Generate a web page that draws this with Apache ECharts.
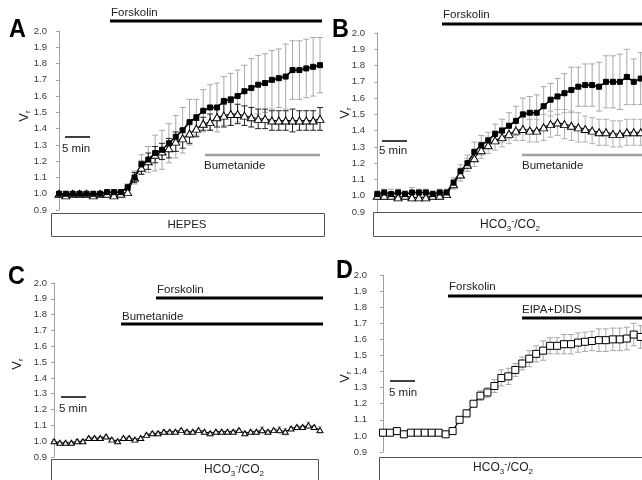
<!DOCTYPE html>
<html>
<head>
<meta charset="utf-8">
<script src="https://cdn.jsdelivr.net/npm/echarts@6/dist/echarts.min.js"></script>
<style>html,body{margin:0;padding:0;background:#fff}#c{width:642px;height:480px}</style>
</head>
<body>
<div id="c"></div>
<script>
// ---------- DATA ----------
var yTicks = [0.9, 2.0, 0.1]; // min, max, interval
// Panel A (HEPES)
var aForsk = [1.00,1.00,1.00,1.00,1.00,1.00,1.00,1.01,1.01,1.01,1.04,1.10,1.18,1.21,1.25,1.27,1.31,1.35,1.39,1.44,1.47,1.51,1.53,1.53,1.57,1.58,1.60,1.63,1.65,1.67,1.68,1.70,1.71,1.72,1.76,1.76,1.77,1.78,1.79];
var aForskSE = [0.01,0.01,0.01,0.01,0.01,0.01,0.01,0.01,0.01,0.01,0.02,0.04,0.06,0.08,0.11,0.12,0.12,0.13,0.14,0.14,0.11,0.13,0.14,0.15,0.15,0.16,0.16,0.16,0.18,0.18,0.18,0.18,0.18,0.20,0.18,0.18,0.18,0.18,0.17];
var aBumet = [1.00,0.99,1.00,1.00,1.00,0.99,1.00,1.00,0.99,1.00,1.01,1.10,1.16,1.20,1.24,1.26,1.28,1.32,1.34,1.37,1.40,1.43,1.44,1.47,1.48,1.49,1.49,1.48,1.47,1.46,1.46,1.45,1.45,1.45,1.45,1.45,1.45,1.45,1.46];
var aBumetSE = [0.01,0.01,0.01,0.01,0.01,0.01,0.01,0.01,0.01,0.01,0.01,0.03,0.04,0.05,0.05,0.05,0.06,0.06,0.06,0.06,0.05,0.04,0.05,0.06,0.07,0.07,0.06,0.06,0.06,0.06,0.06,0.06,0.06,0.06,0.07,0.06,0.06,0.06,0.07];
// Panel B (HCO3-/CO2)
var bForsk = [1.01,1.02,1.01,1.02,1.01,1.02,1.02,1.02,1.01,1.02,1.02,1.08,1.15,1.20,1.27,1.31,1.34,1.38,1.40,1.43,1.46,1.50,1.51,1.51,1.55,1.59,1.61,1.63,1.65,1.67,1.68,1.68,1.67,1.70,1.70,1.70,1.73,1.70,1.72];
var bForskSE = [0.02,0.02,0.03,0.02,0.02,0.03,0.02,0.02,0.02,0.02,0.02,0.03,0.04,0.05,0.06,0.06,0.05,0.06,0.07,0.08,0.09,0.10,0.10,0.11,0.12,0.10,0.11,0.12,0.14,0.12,0.13,0.13,0.15,0.16,0.16,0.17,0.17,0.14,0.16];
var bBumet = [1.00,1.00,1.00,0.99,1.00,0.99,0.99,0.99,1.00,1.00,1.01,1.07,1.13,1.19,1.23,1.28,1.31,1.34,1.36,1.38,1.40,1.41,1.40,1.40,1.42,1.44,1.45,1.44,1.43,1.42,1.41,1.40,1.39,1.39,1.38,1.38,1.39,1.39,1.39];
var bBumetSE = [0.02,0.02,0.02,0.02,0.02,0.02,0.02,0.02,0.02,0.02,0.02,0.03,0.04,0.04,0.05,0.05,0.05,0.06,0.06,0.06,0.06,0.07,0.07,0.07,0.08,0.08,0.08,0.09,0.09,0.09,0.08,0.08,0.08,0.08,0.08,0.08,0.08,0.08,0.08];
// Panel C (bumetanide before forskolin)
var cBumet = [1.00,0.99,0.99,0.99,1.00,1.00,1.02,1.02,1.02,1.03,1.01,1.00,1.02,1.02,1.01,1.02,1.04,1.05,1.05,1.06,1.06,1.06,1.07,1.06,1.06,1.07,1.06,1.05,1.06,1.06,1.06,1.06,1.07,1.05,1.06,1.06,1.07,1.06,1.07,1.07,1.06,1.08,1.09,1.09,1.10,1.09,1.07];
var cBumetSE = [0.01,0.01,0.01,0.01,0.01,0.01,0.01,0.01,0.01,0.01,0.01,0.01,0.01,0.01,0.01,0.01,0.01,0.01,0.01,0.01,0.01,0.01,0.01,0.01,0.01,0.01,0.01,0.01,0.01,0.01,0.01,0.01,0.01,0.01,0.01,0.01,0.02,0.01,0.01,0.02,0.02,0.01,0.01,0.01,0.02,0.01,0.02];
// Panel D (EIPA+DIDS)
var dEipa = [1.02,1.02,1.03,1.01,1.02,1.02,1.02,1.02,1.02,1.01,1.03,1.10,1.14,1.20,1.25,1.27,1.31,1.36,1.37,1.41,1.45,1.48,1.51,1.53,1.56,1.56,1.57,1.57,1.58,1.585,1.59,1.595,1.595,1.60,1.60,1.605,1.63,1.615];
var dEipaSE = [0.01,0.01,0.01,0.01,0.01,0.01,0.01,0.01,0.01,0.01,0.01,0.02,0.02,0.02,0.03,0.03,0.04,0.05,0.05,0.04,0.04,0.05,0.05,0.06,0.05,0.05,0.06,0.06,0.06,0.06,0.06,0.07,0.07,0.07,0.07,0.07,0.07,0.07];

// ---------- CHART ----------
var FONT = '"Liberation Sans", Arial, sans-serif';
var chart = echarts.init(document.getElementById('c'), null, {renderer: 'canvas'});

var grids = [
  {left: 55, top: 31, width: 267, height: 179},
  {left: 373, top: 33, width: 270, height: 179},
  {left: 52, top: 283, width: 270, height: 174},
  {left: 379, top: 275, width: 264, height: 177}
];
var xr = [[-0.58, 38.29], [-0.62, 38.19], [-0.35, 46.35], [-0.57, 37.19]];
var margins = [8, 8, 5, 12];

function pts(arr) { return arr.map(function (v, i) { return [i, v]; }); }
function bars(arr, se) { return arr.map(function (v, i) { return [i, v - se[i], v + se[i]]; }); }

function errSeries(idx, arr, se, color, cap) {
  return {
    type: 'custom', xAxisIndex: idx, yAxisIndex: idx, z: 1, silent: true,
    data: bars(arr, se),
    encode: {x: 0, y: [1, 2]},
    renderItem: function (params, api) {
      var x = api.value(0);
      var lo = api.coord([x, api.value(1)]);
      var hi = api.coord([x, api.value(2)]);
      var st = {stroke: color, lineWidth: 1};
      return {type: 'group', children: [
        {type: 'line', shape: {x1: lo[0], y1: lo[1], x2: hi[0], y2: hi[1]}, style: st},
        {type: 'line', shape: {x1: hi[0] - cap, y1: hi[1], x2: hi[0] + cap, y2: hi[1]}, style: st},
        {type: 'line', shape: {x1: lo[0] - cap, y1: lo[1], x2: lo[0] + cap, y2: lo[1]}, style: st}
      ]};
    }
  };
}
function lineSeries(idx, arr, symbol, size, filled, lw) {
  return {
    type: 'line', xAxisIndex: idx, yAxisIndex: idx, z: 3, silent: true,
    data: pts(arr), symbol: symbol, symbolSize: size, showAllSymbol: true,
    lineStyle: {color: '#000', width: lw},
    itemStyle: {color: filled ? '#000' : '#fff', borderColor: '#000', borderWidth: 1},
    emphasis: {disabled: true}
  };
}

var xAxes = grids.map(function (g, i) {
  return {type: 'value', gridIndex: i, min: xr[i][0], max: xr[i][1], show: false};
});
var yAxes = grids.map(function (g, i) {
  return {
    type: 'value', gridIndex: i, min: yTicks[0], max: yTicks[1], interval: yTicks[2],
    axisLine: {show: true, lineStyle: {color: '#a0a0a0', width: 1}},
    axisTick: {show: true, length: 3, lineStyle: {color: '#a0a0a0'}},
    splitLine: {show: false},
    axisLabel: {margin: margins[i], fontSize: 9.5, color: '#3a3a3a', fontFamily: FONT,
      formatter: function (v) { return v.toFixed(1); }}
  };
});

var series = [
  errSeries(0, aForsk, aForskSE, '#a8a8a8', 3),
  errSeries(0, aBumet, aBumetSE, '#222', 3),
  lineSeries(0, aBumet, 'triangle', [8, 7], false, 1),
  lineSeries(0, aForsk, 'rect', 5, true, 1.6),
  errSeries(1, bForsk, bForskSE, '#a8a8a8', 3),
  errSeries(1, bBumet, bBumetSE, '#b0b0b0', 3),
  lineSeries(1, bBumet, 'triangle', [8, 7], false, 1),
  lineSeries(1, bForsk, 'rect', 5, true, 1.6),
  errSeries(2, cBumet, cBumetSE, '#999', 2),
  lineSeries(2, cBumet, 'triangle', [6, 5], false, 1),
  errSeries(3, dEipa, dEipaSE, '#a8a8a8', 3),
  lineSeries(3, dEipa, 'rect', 7, false, 1.2)
];

// ---------- ANNOTATIONS ----------
function T(x, y, text, size, opts) {
  opts = opts || {};
  return {type: 'text', x: x, y: y, z: 10, silent: true,
    rotation: opts.rot || 0, scaleX: opts.sx || 1,
    style: {text: text, fontSize: size, fontFamily: FONT, fontWeight: opts.bold ? 'bold' : 'normal',
      fill: opts.color || '#222', align: opts.align || 'left', verticalAlign: 'middle',
      rich: opts.rich}};
}
function L(x1, y1, x2, y2, w, c) {
  return {type: 'line', z: 10, silent: true, shape: {x1: x1, y1: y1, x2: x2, y2: y2},
    style: {stroke: c || '#000', lineWidth: w}};
}
function R(x, y, w, h) {
  return {type: 'rect', z: 5, silent: true, shape: {x: x + 0.5, y: y + 0.5, width: w, height: h},
    style: {fill: '#fff', stroke: '#555', lineWidth: 1}};
}
var chemRich = {
  n: {fontSize: 12, fontFamily: FONT, fill: '#222', lineHeight: 16},
  s: {fontSize: 8, fontFamily: FONT, fill: '#222', lineHeight: 16, verticalAlign: 'bottom'},
  p: {fontSize: 9, fontFamily: FONT, fill: '#222', lineHeight: 16, verticalAlign: 'top'}
};
var chem = '{n|HCO}{s|3}{p|-}{n|/CO}{s|2}';
var vrRich = {
  v: {fontSize: 13, fontFamily: FONT, fill: '#222', lineHeight: 16},
  s: {fontSize: 8, fontFamily: FONT, fill: '#222', lineHeight: 16, verticalAlign: 'bottom'}
};
var vr = '{v|V}{s|r}';

var graphics = [
  // Panel letters
  T(9, 30, 'A', 26, {bold: true, sx: 0.9, color: '#000'}),
  T(332, 30, 'B', 26, {bold: true, sx: 0.9, color: '#000'}),
  T(8, 277, 'C', 26, {bold: true, sx: 0.9, color: '#000'}),
  T(336, 271, 'D', 26, {bold: true, sx: 0.9, color: '#000'}),
  // Vr labels
  T(24, 116, vr, 13, {rot: Math.PI / 2, align: 'center', rich: vrRich}),
  T(345, 113, vr, 13, {rot: Math.PI / 2, align: 'center', rich: vrRich}),
  T(17, 364, vr, 13, {rot: Math.PI / 2, align: 'center', rich: vrRich}),
  T(345, 377, vr, 13, {rot: Math.PI / 2, align: 'center', rich: vrRich}),
  // Panel A
  L(110, 21, 322, 21, 3), T(111, 13, 'Forskolin', 11.5),
  L(205, 155, 320, 155, 2.5, '#a0a0a0'), T(204, 165.5, 'Bumetanide', 11.5),
  L(65, 137, 90, 137, 1.5), T(62, 149, '5 min', 11.5),
  R(51, 213, 273, 23), T(187, 225, 'HEPES', 11.5, {align: 'center'}),
  // Panel B
  L(442, 24, 645, 24, 3), T(443, 15, 'Forskolin', 11.5),
  L(522, 155, 645, 155, 2.5, '#a0a0a0'), T(522, 165.5, 'Bumetanide', 11.5),
  L(382, 141, 407, 141, 1.5), T(379, 150.5, '5 min', 11.5),
  R(373, 212, 280, 24), T(510, 225, chem, 12, {align: 'center', rich: chemRich}),
  // Panel C
  L(156, 298, 323, 298, 3), T(157, 290, 'Forskolin', 11.5),
  L(121, 324, 323, 324, 3), T(122, 316.5, 'Bumetanide', 11.5),
  L(61, 397, 86, 397, 1.5), T(59, 408.5, '5 min', 11.5),
  R(51, 459, 267, 30), T(234, 470, chem, 12, {align: 'center', rich: chemRich}),
  // Panel D
  L(448, 296, 645, 296, 3), T(449, 287, 'Forskolin', 11.5),
  L(522, 318, 645, 318, 3), T(522, 309.5, 'EIPA+DIDS', 11.5),
  L(390, 381, 415, 381, 1.5), T(389, 392.5, '5 min', 11.5),
  R(379, 457, 270, 30), T(503, 468, chem, 12, {align: 'center', rich: chemRich})
];

chart.setOption({
  animation: false,
  backgroundColor: '#fff',
  grid: grids,
  xAxis: xAxes,
  yAxis: yAxes,
  series: series,
  graphic: graphics
});
</script>
</body>
</html>
